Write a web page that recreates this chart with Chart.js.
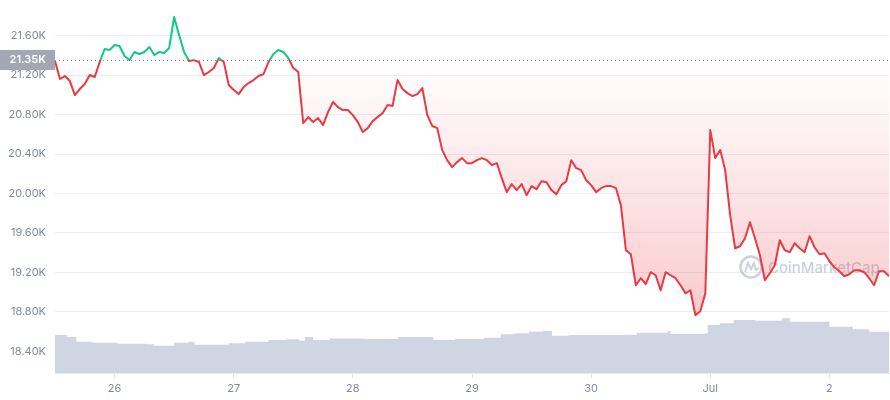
<!DOCTYPE html>
<html>
<head>
<meta charset="utf-8">
<script src="https://cdn.jsdelivr.net/npm/chart.js@4.4.0/dist/chart.umd.min.js"></script>
<style>
html, body { margin: 0; padding: 0; background: #fff; }
canvas { display: block; }
</style>
</head>
<body>
<canvas id="graph-price" width="890" height="400"></canvas>
<script>
// ** DATA: ** //

// hourly price (USD), Jun 25 12:00 -> Jul 2 12:00, one value per hour
var price = [
	21343, 21161, 21191, 21140, 20998, 21059, 21110, 21201, 21181, 21333,
	21465, 21455, 21506, 21496, 21394, 21353, 21435, 21414, 21435, 21485,
	21404, 21435, 21424, 21475, 21790, 21607, 21435, 21343, 21353, 21333,
	21201, 21232, 21272, 21374, 21333, 21100, 21049, 21008, 21079, 21120,
	21150, 21191, 21211, 21333, 21414, 21455, 21435, 21374, 21272, 21232,
	20714, 20775, 20724, 20765, 20694, 20826, 20927, 20876, 20846, 20846,
	20795, 20724, 20623, 20663, 20734, 20775, 20815, 20897, 20887, 21150,
	21059, 21018, 20988, 21008, 21069, 20795, 20684, 20663, 20440, 20338,
	20267, 20318, 20359, 20308, 20308, 20338, 20359, 20338, 20288, 20308,
	20156, 20014, 20095, 20034, 20095, 19983, 20075, 20044, 20125, 20115,
	20034, 19993, 20085, 20125, 20338, 20257, 20237, 20135, 20085, 20014,
	20054, 20075, 20075, 20054, 19880, 19425, 19384, 19070, 19141, 19080,
	19202, 19171, 19019, 19202, 19171, 19141, 19070, 18988, 19019, 18766,
	18806, 18988, 20643, 20359, 20440, 20237, 19780, 19445, 19465, 19547,
	19709, 19547, 19374, 19120, 19191, 19272, 19526, 19425, 19405, 19496,
	19445, 19405, 19567, 19455, 19384, 19394, 19313, 19252, 19212, 19161,
	19181, 19222, 19222, 19202, 19141, 19070, 19212, 19212, 19161
];

// volume (billion USD), stepped: value holds from its hour until the next one
var volHours = [0, 2.5, 4.3, 7.7, 12.6, 18.4, 20, 24, 26.9, 28.1, 35, 38.3, 43, 46.4, 49.2,
	50.4, 52, 55.4, 62.3, 69.1, 76.2, 80.6, 86.4, 89.8, 92.7, 95.5, 98.1, 100.1, 103.5,
	114.4, 117.2, 123.4, 124, 130.9, 131.5, 133.9, 136.7, 141.1, 146.4, 148, 156, 160.7,
	164, 168];
var volValues = [25.5, 24.1, 21.0, 20.3, 19.6, 19.2, 18.3, 20.3, 21.0, 19.0, 19.9, 21.0, 22.1,
	22.6, 21.6, 24.1, 22.1, 23.2, 22.8, 24.1, 22.1, 22.8, 23.7, 25.9, 26.6, 27.7, 28.1, 25.0,
	25.5, 25.7, 27.0, 28.1, 26.1, 26.6, 32.2, 33.3, 35.5, 35.0, 36.7, 34.4, 31.0, 29.3, 27.7,
	27.7];

var dayTicks = [12, 36, 60, 84, 108, 132, 156];
var dayLabels = ['26', '27', '28', '29', '30', 'Jul', '2'];
var priceTicks = [18400, 18800, 19200, 19600, 20000, 20400, 20800, 21200, 21600];
var openPrice = 21350;

var green = '#16c784';
var red = '#ea3943';

// ** FUNCTIONS: ** //

function baseFraction(chart) {
	var area = chart.chartArea;
	var y = chart.scales.y.getPixelForValue(openPrice);
	return Math.min(Math.max((y - area.top) / (area.bottom - area.top), 0), 1);
}

function lineColor(context) {
	var chart = context.chart;
	var area = chart.chartArea;
	if (!area) {
		return red;
	}
	var f = baseFraction(chart);
	var g = chart.ctx.createLinearGradient(0, area.top, 0, area.bottom);
	g.addColorStop(0, green);
	g.addColorStop(f, green);
	g.addColorStop(f, red);
	g.addColorStop(1, red);
	return g;
}

function fillColor(context) {
	var chart = context.chart;
	var area = chart.chartArea;
	if (!area) {
		return 'rgba(234,57,67,0.1)';
	}
	var f = baseFraction(chart);
	var g = chart.ctx.createLinearGradient(0, area.top, 0, area.bottom);
	g.addColorStop(0, 'rgba(22,199,132,0.16)');
	g.addColorStop(f, 'rgba(22,199,132,0)');
	g.addColorStop(f, 'rgba(234,57,67,0)');
	g.addColorStop(1, 'rgba(234,57,67,0.32)');
	return g;
}

var baselinePlugin = {
	id: 'baseline',
	beforeDatasetsDraw: function(chart) {
		var ctx = chart.ctx;
		var area = chart.chartArea;
		var y = Math.round(chart.scales.y.getPixelForValue(openPrice)) + 0.5;

		// watermark
		var wx = area.right - 138;
		var wy = 267;
		ctx.save();
		ctx.strokeStyle = 'rgba(180,190,210,0.7)';
		ctx.fillStyle = 'rgba(180,190,210,0.7)';
		ctx.lineWidth = 2.5;
		ctx.beginPath();
		ctx.arc(wx, wy, 10.5, 0, Math.PI * 2);
		ctx.stroke();
		ctx.lineWidth = 2;
		ctx.beginPath();
		ctx.moveTo(wx - 6, wy + 5);
		ctx.lineTo(wx - 3, wy - 4);
		ctx.lineTo(wx, wy + 2);
		ctx.lineTo(wx + 3, wy - 4);
		ctx.lineTo(wx + 5, wy + 3);
		ctx.lineTo(wx + 8, wy + 1);
		ctx.stroke();
		ctx.font = '500 15px Inter';
		ctx.textBaseline = 'middle';
		ctx.textAlign = 'left';
		ctx.fillText('CoinMarketCap', wx + 17, wy + 1);
		ctx.restore();

		// dotted open price line
		ctx.save();
		ctx.strokeStyle = '#8d94a3';
		ctx.lineWidth = 1;
		ctx.setLineDash([1, 3]);
		ctx.beginPath();
		ctx.moveTo(area.left, y);
		ctx.lineTo(area.right, y);
		ctx.stroke();
		ctx.restore();
	},
	afterDraw: function(chart) {
		var ctx = chart.ctx;
		var area = chart.chartArea;
		var y = chart.scales.y.getPixelForValue(openPrice);
		ctx.save();
		ctx.fillStyle = '#a1a7b3';
		ctx.fillRect(0, Math.round(y) - 10, area.left, 20);
		ctx.fillStyle = '#ffffff';
		ctx.font = '600 11px Inter';
		ctx.textAlign = 'right';
		ctx.textBaseline = 'middle';
		ctx.fillText((openPrice / 1000).toFixed(2) + 'K', area.left - 9, Math.round(y));
		ctx.restore();
	}
};

function generateGraph(graphID) {
	Chart.defaults.font.family = 'Inter';

	var pricePoints = [];
	for (var i = 0; i < price.length; i++) {
		pricePoints.push({x: i, y: price[i]});
	}
	var volPoints = [];
	for (var j = 0; j < volHours.length; j++) {
		volPoints.push({x: volHours[j], y: volValues[j]});
	}

	var graph = document.getElementById(graphID);
	new Chart(graph, {
		type: 'line',
		data: {
			datasets: [{
				data: pricePoints,
				yAxisID: 'y',
				order: 0,
				borderColor: lineColor,
				borderWidth: 2,
				borderJoinStyle: 'round',
				backgroundColor: fillColor,
				fill: {target: {value: openPrice}},
				pointRadius: 0,
				tension: 0
			}, {
				data: volPoints,
				yAxisID: 'yVol',
				order: 1,
				stepped: true,
				borderWidth: 0,
				borderColor: 'rgba(0,0,0,0)',
				backgroundColor: '#cfd5e3',
				fill: 'origin',
				pointRadius: 0
			}]
		},
		options: {
			responsive: false,
			animation: false,
			layout: {padding: {left: 0, right: 1, top: 0, bottom: 0}},
			plugins: {legend: {display: false}, tooltip: {enabled: false}},
			scales: {
				x: {
					type: 'linear',
					min: 0,
					max: 168,
					afterBuildTicks: function(scale) {
						scale.ticks = dayTicks.map(function(v) { return {value: v}; });
					},
					afterFit: function(scale) {
						scale.height = 27;
						scale.paddingLeft = 0;
						scale.paddingRight = 0;
					},
					grid: {drawOnChartArea: false, drawTicks: true, tickLength: 5, color: '#dde1e8'},
					border: {display: true, color: '#e6e9ef'},
					ticks: {
						color: '#808a9d',
						font: {size: 11},
						padding: 4,
						maxRotation: 0,
						autoSkip: false,
						callback: function(value) { return dayLabels[dayTicks.indexOf(value)]; }
					}
				},
				y: {
					min: 18180,
					max: 21962,
					afterBuildTicks: function(scale) {
						scale.ticks = priceTicks.map(function(v) { return {value: v}; });
					},
					afterFit: function(scale) {
						scale.width = 55;
						scale.paddingTop = 0;
						scale.paddingBottom = 0;
					},
					grid: {color: '#eceef2', drawTicks: false},
					border: {display: false},
					ticks: {
						color: '#808a9d',
						font: {size: 11},
						padding: 9,
						callback: function(value) { return (value / 1000).toFixed(2) + 'K'; }
					}
				},
				yVol: {display: false, min: 0, max: 250}
			}
		},
		plugins: [baselinePlugin]
	});
}

// ** ENTRY POINT: ** //

generateGraph('graph-price');
</script>
</body>
</html>
